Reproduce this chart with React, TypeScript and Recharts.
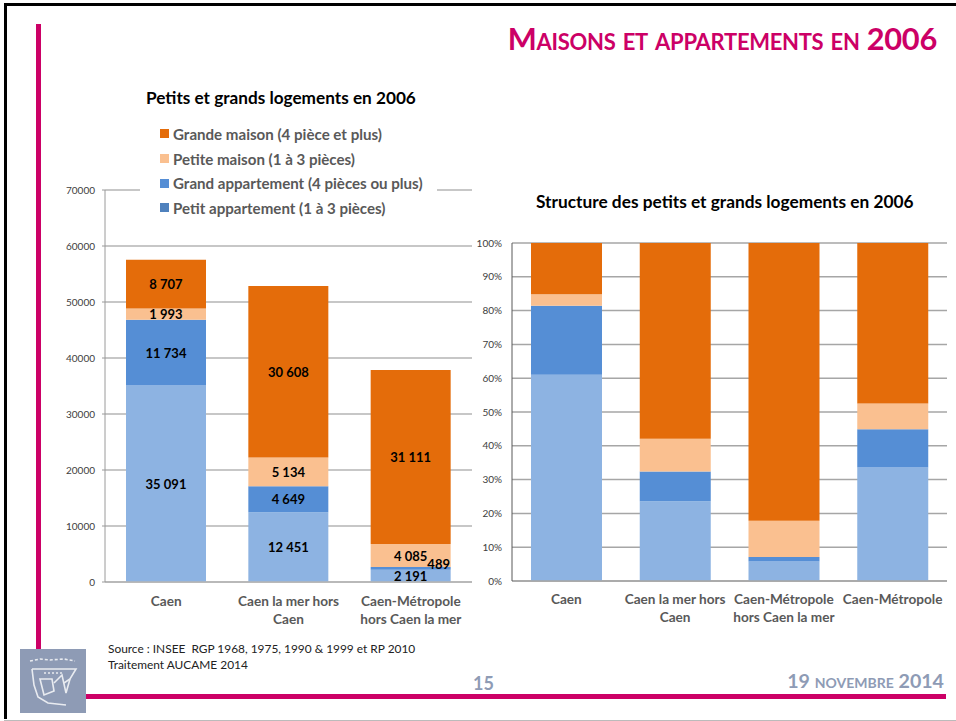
import { BarChart, Bar, XAxis, YAxis, CartesianGrid, Legend, LabelList } from 'recharts'

const FONT = 'Lato, Carlito, sans-serif'
const PINK = '#CC0066'
const SLATE = '#8E9BB5'

const zones = ['Caen', 'Caen la mer hors Caen', 'Caen-Métropole hors Caen la mer']
const zonesWithTotal = [...zones, 'Caen-Métropole']

const zoneLines: Record<string, string[]> = {
  Caen: ['Caen'],
  'Caen la mer hors Caen': ['Caen la mer hors', 'Caen'],
  'Caen-Métropole hors Caen la mer': ['Caen-Métropole', 'hors Caen la mer'],
  'Caen-Métropole': ['Caen-Métropole'],
}

const petitAppart = [35091, 12451, 2191]
const grandAppart = [11734, 4649, 489]
const petiteMaison = [1993, 5134, 4085]
const grandeMaison = [8707, 30608, 31111]

// ligne Caen-Métropole du second graphique
const petitAppartAll = [35091, 12451, 2191, 49733]
const grandAppartAll = [11734, 4649, 489, 16872]
const petiteMaisonAll = [1993, 5134, 4085, 11212]
const grandeMaisonAll = [8707, 30608, 31111, 70426]

const countTicks = [0, 10000, 20000, 30000, 40000, 50000, 60000, 70000]
const shareTicks = [0, 0.1, 0.2, 0.3, 0.4, 0.5, 0.6, 0.7, 0.8, 0.9, 1]

const countData = zones.map((name, i) => ({
  name,
  petitAppart: petitAppart[i],
  grandAppart: grandAppart[i],
  petiteMaison: petiteMaison[i],
  grandeMaison: grandeMaison[i],
}))

const shareData = zonesWithTotal.map((name, i) => ({
  name,
  petitAppart: petitAppartAll[i],
  grandAppart: grandAppartAll[i],
  petiteMaison: petiteMaisonAll[i],
  grandeMaison: grandeMaisonAll[i],
}))

const series = [
  { key: 'petitAppart', name: 'Petit appartement (1 à 3 pièces)', color: '#8DB3E2', swatch: '#4F81BD' },
  { key: 'grandAppart', name: 'Grand appartement (4 pièces ou plus)', color: '#558ED5', swatch: '#558ED5' },
  { key: 'petiteMaison', name: 'Petite maison (1 à 3 pièces)', color: '#FAC090', swatch: '#FAC090' },
  { key: 'grandeMaison', name: 'Grande maison (4 pièce et plus)', color: '#E46C0A', swatch: '#E46C0A' },
]

const spaced = (v: number) => String(v).replace(/\B(?=(\d{3})+$)/g, ' ')

const CategoryTick = ({ x, y, payload }: any) => (
  <text textAnchor="middle" style={{ fontFamily: FONT, fontSize: 13.6, fontWeight: 700, fill: '#595959' }}>
    {(zoneLines[payload.value] || [payload.value]).map((line, i) => (
      <tspan key={line} x={x} y={y + 14 + i * 18}>
        {line}
      </tspan>
    ))}
  </text>
)

const ValueLabel = ({ x, y, width, height, value }: any) => {
  // le 489 est trop fin pour son segment, il est décalé comme sur l'original
  const tiny = value === 489
  return (
    <text
      x={x + width / 2 + (tiny ? 28 : 0)}
      y={y + height / 2 + (tiny ? -4 : 0)}
      textAnchor="middle"
      dominantBaseline="central"
      style={{ fontFamily: FONT, fontSize: 13, fontWeight: 700, fill: '#000' }}
    >
      {spaced(value)}
    </text>
  )
}

const LegendBox = () => (
  <div style={{ background: '#fff', width: 297, height: 97, paddingLeft: 20, boxSizing: 'border-box' }}>
    {[...series].reverse().map((s) => (
      <div key={s.key} style={{ display: 'flex', alignItems: 'center', height: 24.7 }}>
        <span style={{ width: 9, height: 9, background: s.swatch, marginRight: 4, display: 'block' }} />
        <span style={{ fontFamily: FONT, fontSize: 15.1, fontWeight: 700, color: '#595959', whiteSpace: 'nowrap' }}>
          {s.name}
        </span>
      </div>
    ))}
  </div>
)

const Logo = () => (
  <svg width={66} height={64} style={{ position: 'absolute', left: 20, top: 649, background: SLATE }}>
    <g fill="none" stroke="#fff" strokeWidth={1.6} opacity={0.8} style={{ filter: 'blur(0.6px)' }}>
      <path d="M10 12 L20 10 L30 11 L44 10 L55 12" strokeDasharray="3 2" />
      <path d="M12 20 L56 20 L50 30 L44 34" />
      <path d="M12 20 L14 36 L18 48 L28 54 L46 56" />
      <path d="M20 30 L32 30 L34 42 L24 46 Z" />
      <path d="M34 34 L42 26 L46 44 L50 30" />
      <path d="M24 24 L44 24" strokeDasharray="2 2" />
    </g>
  </svg>
)

const absText = (style: any) => ({ position: 'absolute', fontFamily: FONT, whiteSpace: 'nowrap', ...style }) as any

export default function App() {
  return (
    <div style={{ position: 'absolute', left: 0, top: 0, width: 956, height: 721, background: '#fff', overflow: 'hidden' }}>
      {/* cadre de la diapositive */}
      <div style={{ position: 'absolute', left: 4, top: 3, width: 952, height: 3, background: '#000' }} />
      <div style={{ position: 'absolute', left: 4, top: 3, width: 3, height: 716, background: '#000' }} />
      <div style={{ position: 'absolute', left: 4, top: 720, width: 952, height: 1, background: '#bbb' }} />
      <div style={{ position: 'absolute', left: 36, top: 24, width: 5, height: 626, background: PINK }} />
      <div style={{ position: 'absolute', left: 86, top: 694, width: 860, height: 5, background: PINK }} />
      <Logo />

      <div style={absText({ right: 19, top: 21, fontSize: 30.8, letterSpacing: -0.3, fontWeight: 700, color: PINK, fontVariant: 'small-caps', lineHeight: '36px' })}>
        Maisons et appartements en 2006
      </div>
      <div style={absText({ left: 146, top: 88, fontSize: 17.2, fontWeight: 700, color: '#000', lineHeight: '20px' })}>
        Petits et grands logements en 2006
      </div>
      <div style={absText({ left: 536, top: 192, fontSize: 17.3, fontWeight: 700, color: '#000', lineHeight: '20px' })}>
        Structure des petits et grands logements en 2006
      </div>

      <div style={{ position: 'absolute', left: 50, top: 120 }}>
        <BarChart
          width={430}
          height={520}
          data={countData}
          barSize={80}
          margin={{ top: 70, right: 8, bottom: 0, left: 0 }}
        >
          <CartesianGrid vertical={false} stroke="#B5B5B5" strokeWidth={1.5} />
          <XAxis dataKey="name" height={58} interval={0} tick={<CategoryTick />} axisLine={{ stroke: '#B5B5B5', strokeWidth: 1.5 }} tickLine={false} tickMargin={4} />
          <YAxis
            width={55}
            domain={[0, 70000]}
            ticks={countTicks}
            interval={0}
            tick={{ fill: '#404040', fontSize: 10, fontFamily: FONT }}
            axisLine={{ stroke: '#9A9A9A' }}
            tickLine={{ stroke: '#9A9A9A' }}
            tickSize={3}
            tickMargin={7}
          />
          <Legend
            layout="vertical"
            align="center"
            verticalAlign="middle"
            content={<LegendBox />}
            wrapperStyle={{ left: 90, top: 1.5, width: 297, height: 97 }}
          />
          {series.map((s) => (
            <Bar key={s.key} dataKey={s.key} name={s.name} stackId="a" fill={s.color} isAnimationActive={false}>
              <LabelList dataKey={s.key} content={<ValueLabel />} />
            </Bar>
          ))}
        </BarChart>
      </div>

      <div style={{ position: 'absolute', left: 470, top: 235 }}>
        <BarChart
          width={486}
          height={400}
          data={shareData}
          barSize={71}
          stackOffset="expand"
          margin={{ top: 8, right: 9, bottom: 0, left: 0 }}
        >
          <CartesianGrid vertical={false} stroke="#A6A6A6" strokeWidth={1.5} />
          <XAxis dataKey="name" height={54} interval={0} tick={<CategoryTick />} axisLine={{ stroke: '#A6A6A6', strokeWidth: 1.5 }} tickLine={false} tickMargin={3} />
          <YAxis
            width={42}
            domain={[0, 1]}
            ticks={shareTicks}
            interval={0}
            tickFormatter={(v: number) => `${Math.round(v * 100)}%`}
            tick={{ fill: '#404040', fontSize: 10, fontFamily: FONT }}
            axisLine={{ stroke: '#595959' }}
            tickLine={false}
            tickMargin={4}
          />
          {series.map((s) => (
            <Bar key={s.key} dataKey={s.key} name={s.name} stackId="a" fill={s.color} isAnimationActive={false} />
          ))}
        </BarChart>
      </div>

      <div style={absText({ left: 108, top: 641, fontSize: 11.9, color: '#222', lineHeight: '16px' })}>
        Source : INSEE&nbsp; RGP 1968, 1975, 1990 &amp; 1999 et RP 2010
        <br />
        Traitement AUCAME 2014
      </div>
      <div style={absText({ left: 473, top: 672, fontSize: 18, fontWeight: 700, color: SLATE, lineHeight: '22px' })}>15</div>
      <div style={absText({ right: 12, top: 670, fontSize: 19.6, fontWeight: 700, color: SLATE, fontVariant: 'small-caps', lineHeight: '22px' })}>
        19 novembre 2014
      </div>
    </div>
  )
}
